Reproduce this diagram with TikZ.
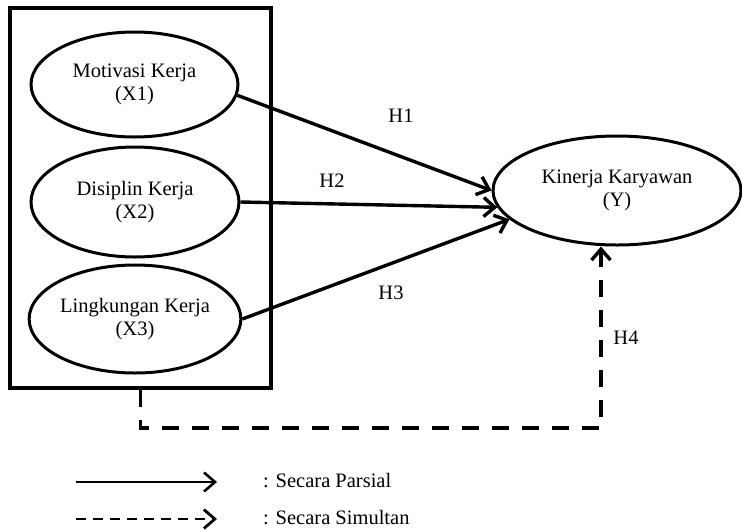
\documentclass[tikz,border=0pt]{standalone}
\usepackage{fontspec}
\setmainfont{Liberation Serif}
\usetikzlibrary{arrows.meta,shapes.geometric}

\begin{document}
\begin{tikzpicture}[x=1pt, y=-1pt,
    var/.style={draw, ellipse, line width=3pt, inner sep=0pt, align=center, font=\fontsize{20.5}{23}\selectfont},
    parsial/.style={line width=3.4pt, -{Straight Barb[length=11pt, width=19pt]}},
    simultan/.style={parsial, dash pattern=on 17pt off 13pt},
    lbl/.style={inner sep=0pt, font=\fontsize{20.5}{23}\selectfont}]
    \useasboundingbox (0,0) rectangle (742,531);

    % Box round the independent variables
    \node[draw, line width=3.2pt, minimum width=261pt, minimum height=380pt, inner sep=0pt] (box) at (140.5,198) {};

    % Independent variables
    \node[var, minimum width=207pt, minimum height=105pt] (x1) at (134.5,84.5) {Motivasi Kerja\\(X1)};
    \node[var, minimum width=208pt, minimum height=110pt] (x2) at (135,202) {Disiplin Kerja\\(X2)};
    \node[var, minimum width=208pt, minimum height=108pt] (x3) at (135,319) {Lingkungan Kerja\\(X3)};

    % Dependent variable
    \node[var, minimum width=248pt, minimum height=109pt] (y) at (617,190.5) {Kinerja Karyawan\\(Y)};

    % Partial paths
    \draw[parsial] (x1.-6) -- (y.west);
    \draw[parsial] (x2.east) -- (y.188);
    \draw[parsial] (x3.east) -- (y.195);

    % Simultaneous path
    \coordinate (turn) at (601,428);
    \draw[simultan] (box.south) |- (turn) -- (turn |- y.south);

    % Hypothesis labels
    \node[lbl] (h1) at (401,116) {H1};
    \node[lbl] (h2) at (332,181) {H2};
    \node[lbl] (h3) at (391,293) {H3};
    \node[lbl] (h4) at (626,338) {H4};

    % Legend
    \coordinate (ps0) at (76,482);
    \coordinate (ps1) at (217,482);
    \coordinate (sm0) at (76,519);
    \coordinate (sm1) at (217,519);
    \draw[parsial, line width=2.6pt] (ps0) -- (ps1);
    \draw[simultan, line width=2.8pt, dash pattern=on 10pt off 7pt] (sm0) -- (sm1);
    \node[lbl, anchor=base west] (ps) at (263,487) {: Secara Parsial};
    \node[lbl, anchor=base west] (sm) at (263,524) {: Secara Simultan};
\end{tikzpicture}
\end{document}
